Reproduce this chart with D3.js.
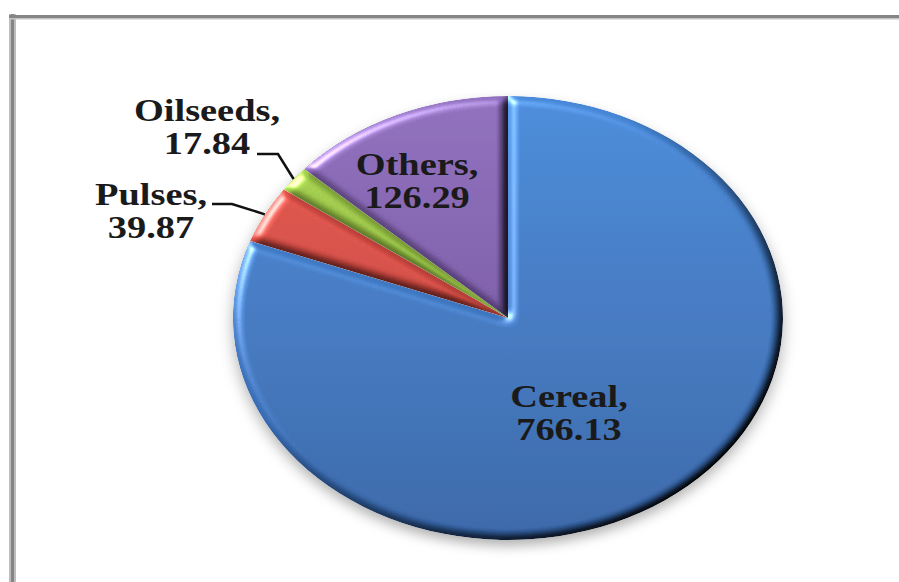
<!DOCTYPE html>
<html>
<head>
<meta charset="utf-8">
<script src="https://cdn.jsdelivr.net/npm/d3@7"></script>
<style>
  html, body { margin: 0; padding: 0; background: #fff; }
  svg { display: block; }
</style>
</head>
<body>
<svg id="chart" width="899" height="582"></svg>
<script>
// data
const categories = ["Cereal", "Pulses", "Oilseeds", "Others"];
const values = [766.13, 39.87, 17.84, 126.29];
const valueLabels = ["766.13", "39.87", "17.84", "126.29"];

// colours (top / bottom of the vertical gradient)
const topColors = ["#4586d6", "#e2524a", "#a6d44c", "#8a69b9"];
const bottomColors = ["#3361a4", "#b83a33", "#7ea534", "#654890"];

// layout
const W = 899, H = 582;
const cx = 508, cy = 318, R = 222, sx = 1.2387; // pie is stretched sideways
const fontSize = 31, lineGap = 33;
const labelPos = {
  Cereal:   { x: 569, y: 407 },
  Pulses:   { x: 151, y: 205, start: [212, 204], elbow: [232, 204] },
  Oilseeds: { x: 207, y: 121, start: [257, 154], elbow: [278, 154] },
  Others:   { x: 417, y: 175 }
};

const svg = d3.select("#chart");
const defs = svg.append("defs");

// frame (only top and left edges show)
svg.append("rect").attr("x", 9).attr("y", 14).attr("width", 7).attr("height", H - 14).attr("fill", "#bdbdbd");
svg.append("rect").attr("x", 11).attr("y", 14).attr("width", 3).attr("height", H - 14).attr("fill", "#858585");
svg.append("rect").attr("x", 9).attr("y", 18).attr("width", W - 9).attr("height", 1.5).attr("fill", "#c4c4c4");
svg.append("rect").attr("x", 9).attr("y", 15).attr("width", W - 9).attr("height", 3).attr("fill", "#858585");

// gradients per slice
categories.forEach((c, i) => {
  const g = defs.append("linearGradient")
    .attr("id", "grad-" + i)
    .attr("gradientUnits", "userSpaceOnUse")
    .attr("x1", 0).attr("y1", -R).attr("x2", 0).attr("y2", R);
  g.append("stop").attr("offset", "0%").attr("stop-color", topColors[i]);
  g.append("stop").attr("offset", "100%").attr("stop-color", bottomColors[i]);
});

// bevel filter
const bevel = defs.append("filter").attr("id", "bevel")
  .attr("x", "-10%").attr("y", "-10%").attr("width", "120%").attr("height", "120%")
  .attr("color-interpolation-filters", "sRGB");
bevel.append("feGaussianBlur").attr("in", "SourceAlpha").attr("stdDeviation", 4).attr("result", "blur");
bevel.append("feDiffuseLighting").attr("in", "blur").attr("surfaceScale", 4)
  .attr("diffuseConstant", 1.5).attr("lighting-color", "#fff").attr("result", "diff")
  .append("feDistantLight").attr("azimuth", 225).attr("elevation", 40);
bevel.append("feComposite").attr("in", "SourceGraphic").attr("in2", "diff")
  .attr("operator", "arithmetic").attr("k1", 1).attr("k2", 0).attr("k3", 0).attr("k4", 0).attr("result", "lit");
bevel.append("feSpecularLighting").attr("in", "blur").attr("surfaceScale", 4)
  .attr("specularConstant", 0.6).attr("specularExponent", 25).attr("lighting-color", "#fff").attr("result", "spec")
  .append("feDistantLight").attr("azimuth", 225).attr("elevation", 40);
bevel.append("feComposite").attr("in", "spec").attr("in2", "SourceAlpha").attr("operator", "in").attr("result", "specIn");
bevel.append("feComposite").attr("in", "lit").attr("in2", "specIn")
  .attr("operator", "arithmetic").attr("k1", 0).attr("k2", 1).attr("k3", 1).attr("k4", 0).attr("result", "out");
bevel.append("feComposite").attr("in", "out").attr("in2", "SourceAlpha").attr("operator", "in");

// soft shadow under the pie
const shadow = defs.append("filter").attr("id", "shadow")
  .attr("x", "-10%").attr("y", "-10%").attr("width", "120%").attr("height", "125%");
shadow.append("feDropShadow").attr("dx", 0).attr("dy", 6).attr("stdDeviation", 6)
  .attr("flood-color", "#000").attr("flood-opacity", 0.3);

const data = categories.map((c, i) => ({ name: c, value: values[i], label: valueLabels[i], i }));
const pie = d3.pie().sort(null).value(d => d.value);
const arcs = pie(data);
const arc = d3.arc().innerRadius(0).outerRadius(R);

const pieG = svg.append("g")
  .attr("transform", `translate(${cx},${cy}) scale(${sx},1)`)
  .attr("filter", "url(#shadow)");

pieG.selectAll("path.slice")
  .data(arcs)
  .enter().append("path")
  .attr("class", "slice")
  .attr("d", arc)
  .attr("fill", d => `url(#grad-${d.data.i})`)
  .attr("filter", "url(#bevel)");

// point on the rim at a slice's middle angle, in page pixels
const rimPoint = d => {
  const a = (d.startAngle + d.endAngle) / 2;
  return [cx + sx * R * Math.sin(a), cy - R * Math.cos(a)];
};

// leader lines
arcs.forEach(d => {
  const p = labelPos[d.data.name];
  if (!p.start) return;
  svg.append("path")
    .attr("d", d3.line()([p.start, p.elbow, rimPoint(d)]))
    .attr("fill", "none")
    .attr("stroke", "#111")
    .attr("stroke-width", 2.5);
});

// labels
arcs.forEach(d => {
  const p = labelPos[d.data.name];
  [d.data.name + ",", d.data.label].forEach((t, k) => {
    svg.append("g")
      .attr("transform", `translate(${p.x},${p.y + k * lineGap}) scale(${sx},1)`)
      .append("text")
      .attr("text-anchor", "middle")
      .attr("font-family", "'Liberation Serif', 'Times New Roman', serif")
      .attr("font-weight", "bold")
      .attr("font-size", fontSize)
      .attr("fill", "#1a1a1a")
      .text(t);
  });
});
</script>
</body>
</html>
